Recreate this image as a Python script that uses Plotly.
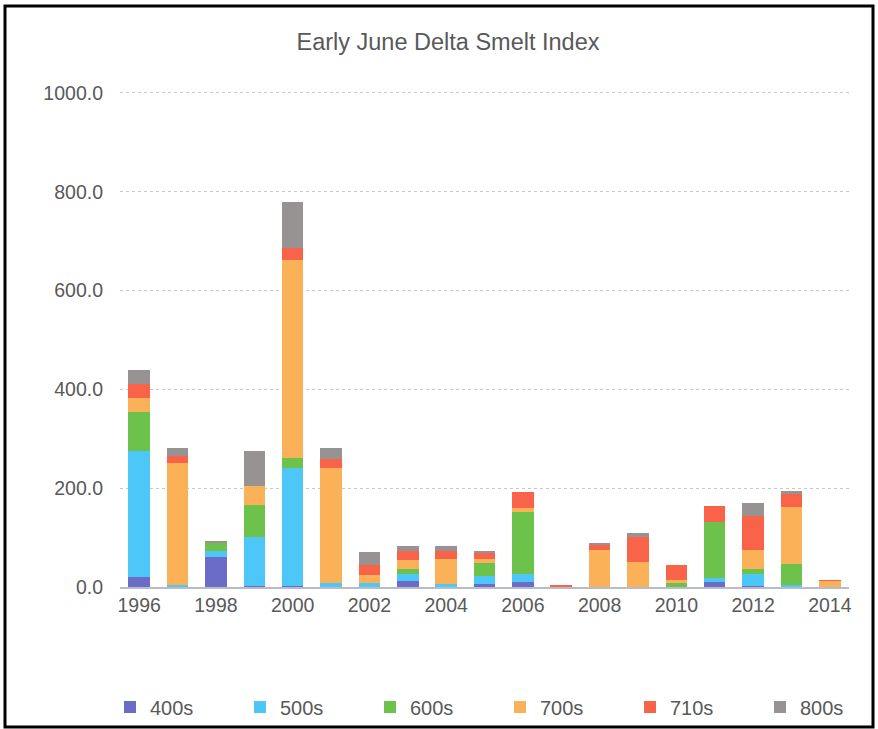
import plotly.graph_objects as go

# Survey years and per-station-group index values
years = [str(y) for y in range(1996, 2015)]
tick_years = [str(y) for y in range(1996, 2015, 2)]

s400 = [20, 0, 61, 2, 3, 0, 0, 13, 0, 6, 10, 0, 0, 0, 0, 10, 2, 0, 0]
s500 = [255, 4, 12, 100, 237, 8, 9, 13, 7, 16, 16, 0, 0, 0, 0, 9, 24, 4, 0]
s600 = [80, 0, 18, 63, 22, 0, 0, 10, 0, 27, 126, 0, 0, 0, 9, 112, 10, 43, 0]
s700 = [28, 246, 0, 39, 400, 233, 15, 19, 50, 7, 7, 2, 75, 51, 5, 0, 38, 114, 13]
s710 = [27, 16, 0, 0, 25, 18, 20, 18, 16, 14, 33, 3, 10, 51, 30, 32, 70, 27, 1]
s800 = [30, 16, 3, 71, 92, 23, 26, 11, 11, 3, 0, 0, 4, 7, 0, 0, 27, 6, 0]

series = [
    ("400s", s400, "#6B6BC8"),
    ("500s", s500, "#4CC7F7"),
    ("600s", s600, "#6CC24A"),
    ("700s", s700, "#FBB157"),
    ("710s", s710, "#F9634A"),
    ("800s", s800, "#979392"),
]

fig = go.Figure()
for name, vals, color in series:
    fig.add_trace(go.Bar(
        x=years, y=vals, name=name,
        marker=dict(color=color, line=dict(width=0)),
    ))

FONT = "Liberation Sans, Arial, sans-serif"
TXT = "#595959"

# pixel helpers for placing decorations around the plot area
L, R, T, B = 120, 29, 88, 142
W, H = 878, 729
PW, PH = W - L - R, H - T - B


def px_x(p):
    return (p - L) / PW


def px_y(p):
    return 1 - (p - T) / PH


fig.update_layout(
    width=W, height=H,
    margin=dict(l=L, r=R, t=T, b=B, autoexpand=False),
    barmode="stack",
    bargap=0.44,
    paper_bgcolor="white",
    plot_bgcolor="white",
    font=dict(family=FONT, color=TXT, size=19.5),
    title=dict(
        text="Early June Delta Smelt Index",
        x=448 / W, xanchor="center",
        y=1 - 42 / H, yanchor="middle",
        font=dict(family=FONT, size=23.5, color=TXT),
    ),
    xaxis=dict(
        type="category",
        categoryorder="array", categoryarray=years,
        tickmode="array", tickvals=tick_years, ticktext=tick_years,
        showgrid=False,
        showline=True, linecolor="#B8BCC8", linewidth=1.5,
        ticks="", tickfont=dict(size=19.5, color=TXT),
        zeroline=False,
    ),
    yaxis=dict(
        range=[0, 1010],
        tickvals=[0, 200, 400, 600, 800, 1000],
        tickformat=".1f",
        showgrid=True, gridcolor="#C8C8C8", gridwidth=1, griddash="dot",
        zeroline=False, showline=False, ticks="",
        tickfont=dict(size=19.5, color=TXT),
        ticklabelstandoff=16,
    ),
    legend=dict(
        orientation="h",
        x=px_x(110), xanchor="left",
        y=px_y(707), yanchor="middle",
        entrywidthmode="pixels", entrywidth=85,
        font=dict(size=20, color=TXT),
        traceorder="normal",
        bgcolor="rgba(0,0,0,0)",
    ),
    shapes=[
        dict(
            type="rect", xref="paper", yref="paper",
            x0=px_x(5), x1=px_x(873), y0=px_y(727), y1=px_y(6),
            line=dict(color="black", width=3),
            fillcolor="rgba(0,0,0,0)", layer="above",
        )
    ],
)

fig.write_html("out.html")
